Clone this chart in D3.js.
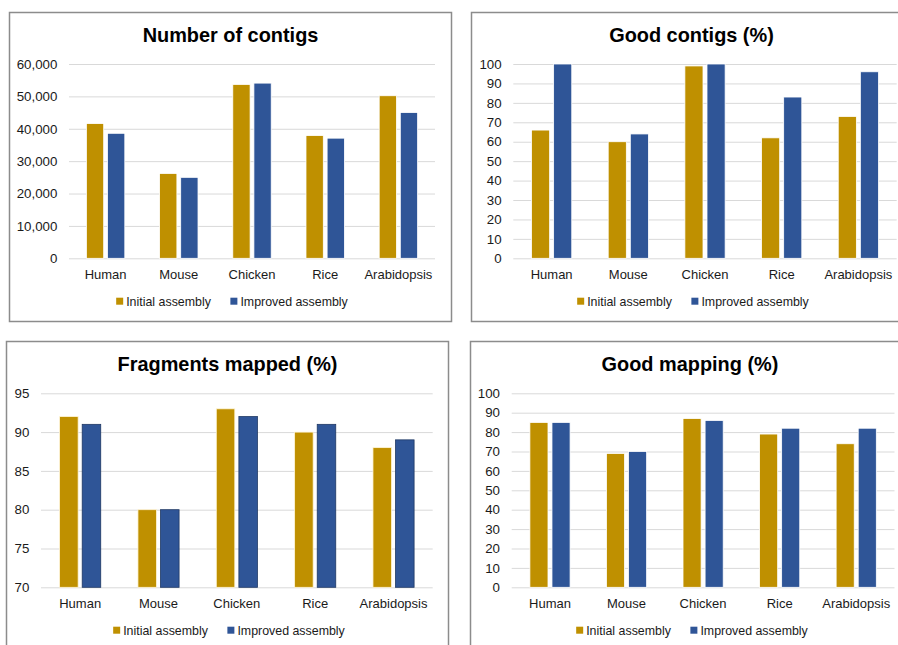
<!DOCTYPE html>
<html>
<head>
<meta charset="utf-8">
<script src="https://cdn.jsdelivr.net/npm/d3@7/dist/d3.min.js"></script>
<style>
  html, body { margin: 0; padding: 0; background: #fff; }
  svg { display: block; font-family: "Liberation Sans", Arial, sans-serif; }
</style>
</head>
<body>
<svg id="chart" width="898" height="645"></svg>
<script>
// Organisms compared in every panel
const categories = ["Human", "Mouse", "Chicken", "Rice", "Arabidopsis"];
const seriesNames = ["Initial assembly", "Improved assembly"];

// Number of contigs
const contigsInitial  = [41600, 26200, 53700, 37900, 50200];
const contigsImproved = [38600, 25000, 54100, 37100, 45000];
const contigsTicks = [0, 10000, 20000, 30000, 40000, 50000, 60000];

// Good contigs (%)
const goodContigsInitial  = [66, 60, 99, 62, 73];
const goodContigsImproved = [100, 64, 100, 83, 96];
const goodContigsTicks = [0, 10, 20, 30, 40, 50, 60, 70, 80, 90, 100];

// Fragments mapped (%)
const fragmentsInitial  = [92, 80, 93, 90, 88];
const fragmentsImproved = [91, 80, 92, 91, 89];
const fragmentsTicks = [70, 75, 80, 85, 90, 95];

// Good mapping (%)
const goodMappingInitial  = [85, 69, 87, 79, 74];
const goodMappingImproved = [85, 70, 86, 82, 82];
const goodMappingTicks = [0, 10, 20, 30, 40, 50, 60, 70, 80, 90, 100];

const colors = { "Initial assembly": "#BF9000", "Improved assembly": "#2F5597" };

// Panel layout
const panels = [
  { title: "Number of contigs", initial: contigsInitial, improved: contigsImproved, ticks: contigsTicks,
    fmt: d3.format(","),
    frame: [9.5, 12.5, 442, 309], plot: [69, 435, 64, 258.3], titleX: 230.5, titleY: 42,
    catY: 278.5, legendY: 306, legendCx: 232, edge: ["#fff", "#fff"] },
  { title: "Good contigs (%)", initial: goodContigsInitial, improved: goodContigsImproved, ticks: goodContigsTicks,
    fmt: d3.format("d"),
    frame: [471.5, 12.5, 440, 309], plot: [513.3, 896.7, 64, 258.3], titleX: 691.5, titleY: 42,
    catY: 278.5, legendY: 306, legendCx: 693, edge: ["#fff", "#fff"] },
  { title: "Fragments mapped (%)", initial: fragmentsInitial, improved: fragmentsImproved, ticks: fragmentsTicks,
    fmt: d3.format("d"),
    frame: [6.5, 341.5, 442, 320], plot: [41, 432.7, 393.3, 587.3], titleX: 227.5, titleY: 371,
    catY: 607.5, legendY: 635, legendCx: 229, edge: ["#fff6d8", "#1F3864"] },
  { title: "Good mapping (%)", initial: goodMappingInitial, improved: goodMappingImproved, ticks: goodMappingTicks,
    fmt: d3.format("d"),
    frame: [470.5, 341.5, 440, 320], plot: [511.7, 894.5, 393.3, 587.3], titleX: 690, titleY: 371,
    catY: 607.5, legendY: 635, legendCx: 692, edge: ["#fff", "#fff"] }
];

const svg = d3.select("#chart");

panels.forEach(p => {
  const g = svg.append("g");
  const [fx, fy, fw, fh] = p.frame;
  const [x0, x1, yTop, yBottom] = p.plot;

  // chart frame
  g.append("rect")
    .attr("x", fx).attr("y", fy).attr("width", fw).attr("height", fh)
    .attr("fill", "#fff").attr("stroke", "#8c8c8c").attr("stroke-width", 1.5);

  // title
  g.append("text")
    .attr("x", p.titleX).attr("y", p.titleY)
    .attr("text-anchor", "middle")
    .attr("font-size", "19.9px").attr("font-weight", "bold").attr("fill", "#000")
    .text(p.title);

  const y = d3.scaleLinear()
    .domain(d3.extent(p.ticks))
    .range([yBottom, yTop]);

  const x = d3.scaleBand()
    .domain(categories)
    .range([x0, x1])
    .paddingInner(0.475)
    .paddingOuter(0.2375);

  const xs = d3.scaleBand()
    .domain(seriesNames)
    .range([0, x.bandwidth()])
    .paddingInner(0.18);

  // horizontal gridlines with value labels
  const yAxis = d3.axisLeft(y)
    .tickValues(p.ticks)
    .tickFormat(p.fmt)
    .tickSize(-(x1 - x0))
    .tickPadding(11.7);

  const ya = g.append("g")
    .attr("transform", `translate(${x0},0)`)
    .call(yAxis);
  ya.select(".domain").remove();
  ya.selectAll(".tick line").attr("stroke", "#d9d9d9").attr("stroke-width", 1);
  ya.selectAll(".tick text")
    .attr("fill", "#1a1a1a")
    .attr("font-size", "13.3px")
    .attr("font-family", "Liberation Sans, Arial, sans-serif");

  // bars
  const rows = categories.map((c, i) => ({ cat: c, vals: [
    { s: seriesNames[0], v: p.initial[i], k: 0 },
    { s: seriesNames[1], v: p.improved[i], k: 1 }
  ]}));

  const base = d3.min(p.ticks);
  g.append("g").selectAll("g")
    .data(rows)
    .join("g")
    .attr("transform", d => `translate(${x(d.cat)},0)`)
    .selectAll("rect")
    .data(d => d.vals)
    .join("rect")
    .attr("x", d => xs(d.s))
    .attr("width", xs.bandwidth())
    .attr("y", d => y(d.v))
    .attr("height", d => y(base) - y(d.v))
    .attr("fill", d => colors[d.s])
    .attr("stroke", d => p.edge[d.k])
    .attr("stroke-width", 0.8);

  // category labels
  const xAxis = d3.axisBottom(x).tickSize(0).tickPadding(0);
  const xa = g.append("g")
    .attr("transform", `translate(0,${p.catY})`)
    .call(xAxis);
  xa.select(".domain").remove();
  xa.selectAll(".tick text")
    .attr("dy", 0)
    .attr("y", 0)
    .attr("fill", "#1a1a1a")
    .attr("font-size", "13px")
    .attr("font-family", "Liberation Sans, Arial, sans-serif");

  // legend
  const leg = g.append("g");
  const items = leg.selectAll("g")
    .data(seriesNames)
    .join("g");
  items.append("rect")
    .attr("width", 7).attr("height", 7)
    .attr("y", -8.3)
    .attr("fill", d => colors[d]);
  items.append("text")
    .attr("x", 10)
    .attr("font-size", "12.4px")
    .attr("fill", "#1a1a1a")
    .text(d => d);

  let offset = 0;
  const widths = [];
  items.each(function () {
    const w = 10 + d3.select(this).select("text").node().getComputedTextLength();
    widths.push(w);
  });
  const gap = 19.5;
  const total = d3.sum(widths) + gap * (widths.length - 1);
  items.attr("transform", (d, i) => {
    const tx = p.legendCx - total / 2 + offset;
    offset += widths[i] + gap;
    return `translate(${tx},${p.legendY})`;
  });
});
</script>
</body>
</html>
